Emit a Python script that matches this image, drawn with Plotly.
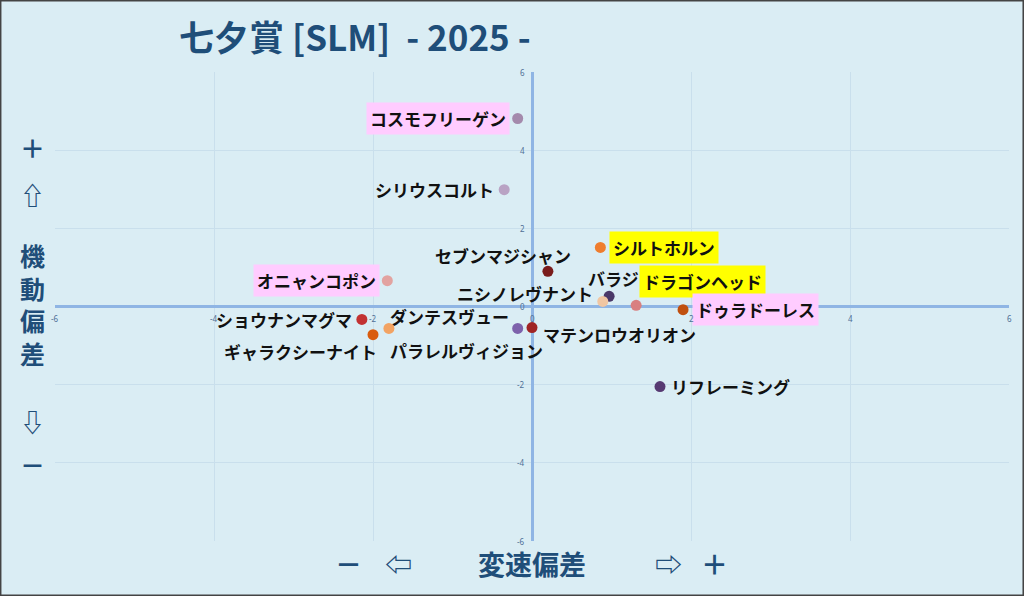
import plotly.graph_objects as go

# ---- data ----
horses = ["コスモフリーゲン", "シリウスコルト", "セブンマジシャン", "シルトホルン", "バラジ",
          "ドラゴンヘッド", "ニシノレヴナント", "ドゥラドーレス", "オニャンコポン", "ショウナンマグマ",
          "ギャラクシーナイト", "パラレルヴィジョン", "ダンテスヴュー", "マテンロウオリオン", "リフレーミング"]
speed_dev = [-0.18, -0.35, 0.20, 0.86, 0.97, 1.31, 0.89, 1.90, -1.82, -2.14, -2.00, -1.80, -0.18, 0.00, 1.61]
mobility_dev = [4.81, 2.99, 0.90, 1.51, 0.26, 0.03, 0.13, -0.08, 0.66, -0.33, -0.72, -0.56, -0.56, -0.54, -2.05]
dot_colors = ["#a48aac", "#b9a3c4", "#7a1c1c", "#ef7d2e", "#4a3868", "#d98080", "#f0c6a2", "#c0500f",
              "#e2a3a0", "#c23232", "#d95c0e", "#f2a363", "#7d62ab", "#a02424", "#573a72"]
highlight = ["#ffccff", None, None, "#ffff00", None, "#ffff00", None, "#ffccff", "#ffccff",
             None, None, None, None, None, None]
tick_vals = [-6, -4, -2, 0, 2, 4, 6]
title_text = "七夕賞 [SLM]  - 2025 -"

# ---- label placement (style) ----
# (xanchor, xshift, yshift)
label_pos = [("right", -8, 0), ("right", -8, 0), ("center", -45, 16), ("left", 9, 0), ("center", 4, 18),
             ("left", 3, 24), ("right", -8, 8), ("left", 9, 0), ("right", -7, 0), ("right", -8, 0),
             ("right", 6, -17), ("left", -1, -22), ("right", -7, 12), ("left", 9, -7), ("left", 9, 0)]

DARK = "#1f4e79"
BG = "#daedf4"

fig = go.Figure()
fig.add_trace(go.Scatter(
    x=speed_dev, y=mobility_dev, mode="markers",
    marker=dict(size=11, color=dot_colors, line=dict(width=0)),
    hoverinfo="text", text=horses, showlegend=False,
))

ann = []
for name, xv, yv, hl, (xa, xs, ys) in zip(horses, speed_dev, mobility_dev, highlight, label_pos):
    a = dict(x=xv, y=yv, xref="x", yref="y", text=name, showarrow=False,
             xanchor=xa, yanchor="middle", xshift=xs, yshift=ys,
             font=dict(family="Noto Sans CJK JP", size=17, color="#111111", weight="bold"))
    if hl:
        a.update(bgcolor=hl, borderpad=3)
    ann.append(a)

tick_font = dict(family="Noto Sans", size=8, color="#4f6f96")
for t in tick_vals:
    ann.append(dict(x=t, y=0, xref="x", yref="y", text=str(t), showarrow=False,
                    xanchor="center", yanchor="top", yshift=-4, font=tick_font))
    ann.append(dict(x=0, y=t, xref="x", yref="y", text=str(t), showarrow=False,
                    xanchor="right", yanchor="middle", xshift=-5, font=tick_font))

# axis titles
left_font = dict(family="Noto Sans CJK JP", size=25, color=DARK, weight="bold")
for txt, yp in [("＋", 0.84), ("⇧", 0.74), ("機<br>動<br>偏<br>差", 0.505), ("⇩", 0.255), ("－", 0.165)]:
    ann.append(dict(x=-0.024, y=yp, xref="paper", yref="paper", text=txt, showarrow=False,
                    xanchor="center", yanchor="middle", font=left_font))
bottom_font = dict(family="Noto Sans CJK JP", size=27, color=DARK, weight="bold")
for txt, xp in [("－", 0.308), ("⇦", 0.36), ("変速偏差", 0.5), ("⇨", 0.643), ("＋", 0.691)]:
    ann.append(dict(x=xp, y=-0.047, xref="paper", yref="paper", text=txt, showarrow=False,
                    xanchor="center", yanchor="middle", font=bottom_font))

ann.append(dict(x=0.128, y=1.077, xref="paper", yref="paper", text=title_text, showarrow=False,
                xanchor="left", yanchor="middle",
                font=dict(family="Noto Sans CJK JP", size=35, color=DARK, weight="bold")))

axis_common = dict(range=[-6, 6], tickvals=tick_vals, showticklabels=False, showgrid=True,
                   gridcolor="#c9dfec", gridwidth=1, zeroline=True, zerolinecolor="#8fb5e4",
                   zerolinewidth=3, showline=False, fixedrange=True)

fig.update_layout(
    width=1024, height=596,
    margin=dict(l=55, r=15, t=72, b=55),
    paper_bgcolor=BG, plot_bgcolor=BG,
    xaxis=axis_common, yaxis=axis_common,
    annotations=ann,
    shapes=[dict(type="rect", xref="paper", yref="paper", x0=-0.0577, x1=1.0157, y0=-0.1173, y1=1.1535,
                 line=dict(color="#444444", width=3), layer="above")],
)

fig.write_html("out.html", config={"displayModeBar": False},
               post_script="document.body.style.margin='0';document.body.style.overflow='hidden';")
